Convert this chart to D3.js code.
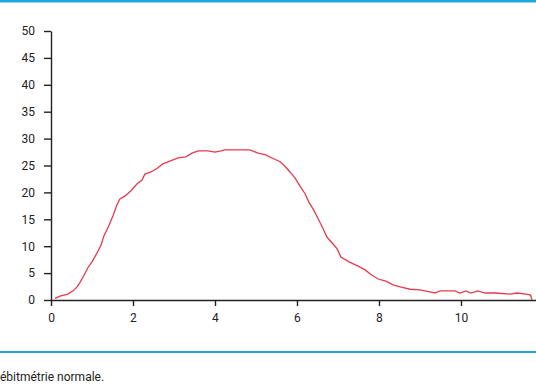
<!DOCTYPE html>
<html>
<head>
<meta charset="utf-8">
<script src="https://cdn.jsdelivr.net/npm/d3@7"></script>
<style>
  body { margin: 0; background: #fff; }
  svg { display: block; }
  .axis text { font-family: Roboto, sans-serif; font-size: 12px; fill: #222; }
  .axis path, .axis line { stroke: #222; stroke-width: 1.4; }
</style>
</head>
<body>
<div id="chart"></div>
<script>
// flow curve, time (s) vs flow (ml/s)
var times = [0.1, 0.22, 0.41, 0.54, 0.63, 0.7, 0.8, 0.9, 1.0, 1.12, 1.22, 1.29, 1.41, 1.51,
  1.61, 1.68, 1.8, 1.95, 2.1, 2.22, 2.29, 2.44, 2.59, 2.73, 2.9, 3.1, 3.29, 3.44, 3.59,
  3.83, 4.0, 4.15, 4.24, 4.61, 4.85, 5.05, 5.22, 5.39, 5.59, 5.7, 5.83, 5.95, 6.07, 6.2,
  6.29, 6.41, 6.51, 6.63, 6.73, 6.88, 6.98, 7.07, 7.27, 7.49, 7.66, 7.83, 7.98, 8.17,
  8.34, 8.54, 8.76, 9.0, 9.24, 9.37, 9.49, 9.85, 9.98, 10.12, 10.24, 10.41, 10.59, 10.83,
  11.2, 11.37, 11.59, 11.7, 11.73];
var flows = [0.3, 0.7, 1.1, 1.7, 2.4, 3.2, 4.5, 6.0, 7.1, 8.7, 10.2, 11.9, 13.8, 15.6,
  17.7, 18.8, 19.3, 20.3, 21.6, 22.3, 23.4, 23.8, 24.5, 25.3, 25.8, 26.4, 26.6, 27.3, 27.7,
  27.7, 27.5, 27.7, 27.9, 27.9, 27.9, 27.3, 27.0, 26.4, 25.7, 24.9, 23.8, 22.7, 21.2, 19.7,
  18.2, 16.7, 15.2, 13.4, 11.7, 10.4, 9.5, 8.0, 7.1, 6.3, 5.6, 4.6, 3.9, 3.5,
  2.8, 2.4, 2.0, 1.9, 1.5, 1.3, 1.7, 1.7, 1.3, 1.7, 1.3, 1.7, 1.3, 1.3,
  1.1, 1.3, 1.1, 0.9, 0];
var xTicks = [0, 2, 4, 6, 8, 10];
var yTicks = [0, 5, 10, 15, 20, 25, 30, 35, 40, 45, 50];
var caption = "ébitmétrie normale.";

var width = 536, height = 386;
var margin = {top: 31, left: 51, bottom: 86};

var svg = d3.select("#chart").append("svg")
  .attr("width", width)
  .attr("height", height);

var x = d3.scaleLinear().domain([0, 11.83]).range([margin.left, width]);
var y = d3.scaleLinear().domain([0, 50]).range([height - margin.bottom, margin.top]);

// top and bottom blue rules
svg.append("rect").attr("x", 0).attr("y", 0).attr("width", width).attr("height", 2.5)
  .attr("fill", "#1ea6df");
svg.append("rect").attr("x", 0).attr("y", 351).attr("width", width).attr("height", 2)
  .attr("fill", "#1ea6df");

var xAxis = d3.axisBottom(x).tickValues(xTicks).tickSize(6).tickSizeOuter(0).tickPadding(7);
var yAxis = d3.axisLeft(y).tickValues(yTicks).tickSize(7).tickSizeOuter(0).tickPadding(9);

svg.append("g")
  .attr("class", "x axis")
  .attr("transform", "translate(0," + y(0) + ")")
  .call(xAxis);

svg.append("g")
  .attr("class", "y axis")
  .attr("transform", "translate(" + margin.left + ",0)")
  .call(yAxis);

var line = d3.line()
  .x(function(d) { return x(d[0]); })
  .y(function(d) { return y(d[1]); });

svg.append("path")
  .datum(d3.zip(times, flows))
  .attr("d", line)
  .attr("fill", "none")
  .attr("stroke", "#e63a4e")
  .attr("stroke-width", 1.3);

svg.append("text")
  .attr("x", 0)
  .attr("y", 381)
  .attr("font-family", "Roboto, sans-serif")
  .attr("font-size", 12)
  .attr("fill", "#222")
  .text(caption);
</script>
</body>
</html>
